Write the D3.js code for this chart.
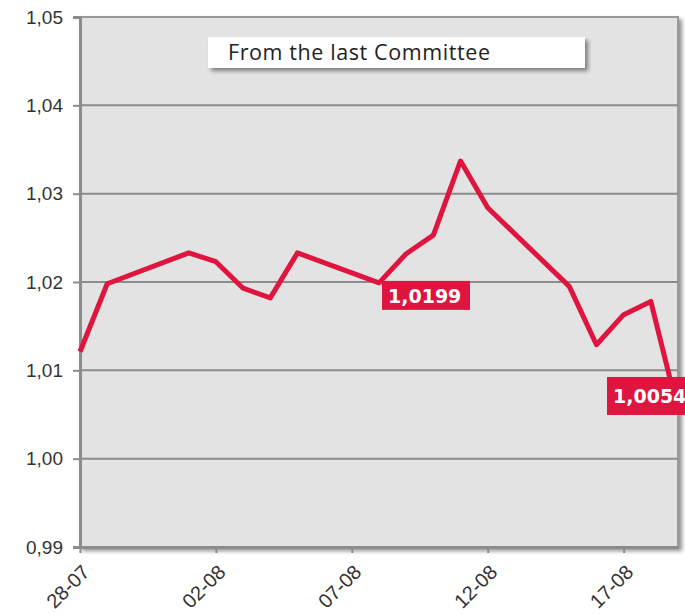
<!DOCTYPE html>
<html>
<head>
<meta charset="utf-8">
<script src="https://cdn.jsdelivr.net/npm/d3@7"></script>
<style>
  body { margin: 0; background: #fff; }
  svg { display: block; }
</style>
</head>
<body>
<svg id="chart" width="685" height="614"></svg>
<script>
// -- Data --
const dates = ["28-07", "29-07", "01-08", "02-08", "03-08", "04-08", "05-08", "08-08", "09-08",
               "10-08", "11-08", "12-08", "15-08", "16-08", "17-08", "18-08", "19-08"];
const values = [1.0121, 1.0198, 1.0233, 1.0223, 1.0193, 1.0182, 1.0233, 1.0199, 1.0232,
                1.0253, 1.0337, 1.0284, 1.0195, 1.0129, 1.0163, 1.0178, 1.0054];
const xTickLabels = ["28-07", "02-08", "07-08", "12-08", "17-08"];
const yTicks = [0.99, 1.00, 1.01, 1.02, 1.03, 1.04, 1.05];
const labelledPoints = ["08-08", "19-08"];
const legendText = "From the last Committee";

const YEAR = "2022";
const parseDate = d3.timeParse("%d-%m-%Y");
const data = dates.map((d, i) => ({ date: parseDate(d + "-" + YEAR), key: d, value: values[i] }));

const locale = d3.formatLocale({ decimal: ",", thousands: ".", grouping: [3], currency: ["", "€"] });
const fmt2 = locale.format(".2f");
const fmt4 = locale.format(".4f");

// -- Layout --
const svg = d3.select("#chart");
const margin = { top: 17, right: 7, bottom: 67, left: 80 };
const width = 685 - margin.left - margin.right;
const height = 614 - margin.top - margin.bottom;

const x = d3.scaleTime()
    .domain([parseDate("28-07-" + YEAR), parseDate("19-08-" + YEAR)])
    .range([0, width]);
const y = d3.scaleLinear().domain([0.99, 1.05]).range([height, 0]);

const defs = svg.append("defs");
const shadow = defs.append("filter").attr("id", "shadow")
    .attr("x", "-5%").attr("y", "-5%").attr("width", "115%").attr("height", "125%");
shadow.append("feGaussianBlur").attr("in", "SourceAlpha").attr("stdDeviation", 2);
shadow.append("feOffset").attr("dx", 3).attr("dy", 3).attr("result", "off");
shadow.append("feComponentTransfer").append("feFuncA").attr("type", "linear").attr("slope", 0.45);
const merge = shadow.append("feMerge");
merge.append("feMergeNode");
merge.append("feMergeNode").attr("in", "SourceGraphic");

const g = svg.append("g").attr("transform", `translate(${margin.left},${margin.top})`);

// plot background with frame + shadow
g.append("rect")
    .attr("width", width).attr("height", height)
    .attr("fill", "#e3e3e3")
    .attr("stroke", "#999").attr("stroke-width", 2)
    .attr("filter", "url(#shadow)");

// grid lines
g.append("g").selectAll("line")
    .data(yTicks.slice(1, -1))
    .join("line")
    .attr("x1", 0).attr("x2", width)
    .attr("y1", d => y(d)).attr("y2", d => y(d))
    .attr("stroke", "#8c8c8c").attr("stroke-width", 2);

// y axis
const yAxis = g.append("g")
    .call(d3.axisLeft(y).tickValues(yTicks).tickFormat(fmt2).tickSize(7).tickPadding(10));
yAxis.select(".domain").attr("stroke", "#8c8c8c").attr("stroke-width", 3);
yAxis.selectAll(".tick line").attr("stroke", "#8c8c8c").attr("stroke-width", 2);
yAxis.selectAll(".tick text")
    .attr("fill", "#333")
    .style("font-family", "'Liberation Sans', Arial, sans-serif")
    .style("font-size", "19px");

// x axis
const xAxis = g.append("g")
    .attr("transform", `translate(0,${height})`)
    .call(d3.axisBottom(x)
        .tickValues(xTickLabels.map(d => parseDate(d + "-" + YEAR)))
        .tickFormat(d3.timeFormat("%d-%m"))
        .tickSize(6).tickSizeOuter(0));
xAxis.select(".domain").attr("stroke", "#8c8c8c").attr("stroke-width", 3);
xAxis.selectAll(".tick line").attr("stroke", "#8c8c8c").attr("stroke-width", 2);
xAxis.selectAll(".tick text")
    .attr("fill", "#333")
    .attr("text-anchor", "end")
    .attr("dy", 0)
    .attr("transform", "translate(4,20) rotate(-45)")
    .style("font-family", "'Liberation Sans', Arial, sans-serif")
    .style("font-size", "20px");

// line
const line = d3.line().x(d => x(d.date)).y(d => y(d.value));
g.append("path")
    .datum(data)
    .attr("d", line)
    .attr("fill", "none")
    .attr("stroke", "#e0153f")
    .attr("stroke-width", 5)
    .attr("stroke-linejoin", "round");

// legend box
const legend = g.append("g").attr("transform", "translate(128,20)");
legend.append("rect")
    .attr("width", 377).attr("height", 31)
    .attr("fill", "#fff")
    .attr("filter", "url(#shadow)");
legend.append("text")
    .attr("x", 20).attr("y", 23)
    .attr("fill", "#222")
    .style("font-family", "'Open Sans', sans-serif")
    .style("font-size", "21.5px")
    .attr("textLength", 262)
    .text(legendText);

// value labels
const labelData = data.filter(d => labelledPoints.includes(d.key));
const labels = g.append("g").selectAll("g")
    .data(labelData)
    .join("g")
    .attr("transform", (d, i) => i === 0
        ? `translate(${x(d.date) + 3},${y(d.value) - 2})`
        : `translate(${x(d.date) - 71},${y(d.value) - 34})`);
labels.append("rect")
    .attr("width", (d, i) => i === 0 ? 88 : 86)
    .attr("height", (d, i) => i === 0 ? 29 : 38)
    .attr("fill", "#e0153f");
labels.append("text")
    .attr("x", 6)
    .attr("y", (d, i) => i === 0 ? 22 : 26)
    .attr("fill", "#fff")
    .style("font-family", "'DejaVu Sans', Verdana, sans-serif")
    .style("font-weight", "bold")
    .style("font-size", "19px")
    .text(d => fmt4(d.value));
</script>
</body>
</html>
